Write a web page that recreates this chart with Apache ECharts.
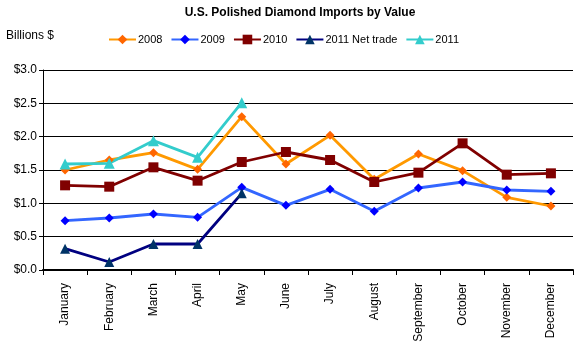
<!DOCTYPE html>
<html>
<head>
<meta charset="utf-8">
<script src="https://cdn.jsdelivr.net/npm/echarts@6/dist/echarts.min.js"></script>
<style>
  html, body { margin: 0; padding: 0; background: #fff; }
  #chart { width: 579px; height: 351px; }
</style>
</head>
<body>
<div id="chart"></div>
<script>
const months = ['January', 'February', 'March', 'April', 'May', 'June', 'July',
  'August', 'September', 'October', 'November', 'December']
const yTicks = [0, 0.5, 1, 1.5, 2, 2.5, 3]
// values in billions of dollars
const v2008 = [1.50, 1.65, 1.76, 1.51, 2.30, 1.59, 2.02, 1.36, 1.74, 1.49, 1.09, 0.96]
const v2009 = [0.74, 0.78, 0.84, 0.79, 1.24, 0.97, 1.21, 0.88, 1.23, 1.32, 1.20, 1.18]
const v2010 = [1.27, 1.25, 1.54, 1.34, 1.62, 1.77, 1.65, 1.32, 1.46, 1.90, 1.43, 1.45]
const v2011Net = [0.32, 0.12, 0.39, 0.39, 1.15]
const v2011 = [1.59, 1.60, 1.94, 1.69, 2.51]

const font = 'Liberation Sans, Arial, sans-serif'

function lineSeries (name, data, lineColor, markColor, symbol, size) {
  return {
    name: name,
    type: 'line',
    data: data,
    symbol: symbol,
    symbolSize: size,
    showSymbol: true,
    lineStyle: { color: lineColor, width: 2.8 },
    itemStyle: { color: markColor },
    animation: false
  }
}

const chart = echarts.init(document.getElementById('chart'))
chart.setOption({
  backgroundColor: '#fff',
  title: [
    {
      text: 'U.S. Polished Diamond Imports by Value',
      left: 295,
      textAlign: 'center',
      top: 2,
      textStyle: { fontFamily: font, fontSize: 12, fontWeight: 'bold', color: '#000' }
    },
    {
      text: 'Billions $',
      left: 1,
      top: 25,
      textStyle: { fontFamily: font, fontSize: 12, fontWeight: 'normal', color: '#000' }
    }
  ],
  legend: {
    left: 103,
    top: 29,
    itemWidth: 27,
    itemHeight: 12,
    itemGap: 8,
    textStyle: { fontFamily: font, fontSize: 11, color: '#000', padding: [0, 0, 0, -3] },
    data: ['2008', '2009', '2010', '2011 Net trade', '2011']
  },
  grid: { left: 43, right: 6, top: 70, bottom: 81, containLabel: false },
  xAxis: {
    type: 'category',
    data: months,
    boundaryGap: true,
    axisLine: { lineStyle: { color: '#000', width: 2 } },
    axisTick: { show: true, length: 5, lineStyle: { color: '#000', width: 1 } },
    axisLabel: { rotate: 90, interval: 0, fontFamily: font, fontSize: 12, color: '#000', margin: 13 }
  },
  yAxis: {
    type: 'value',
    min: yTicks[0],
    max: yTicks[yTicks.length - 1],
    interval: 0.5,
    axisLine: { show: true, lineStyle: { color: '#000', width: 1 } },
    axisTick: { show: true, length: 4, lineStyle: { color: '#000' } },
    splitLine: { lineStyle: { color: '#000', width: 1 } },
    axisLabel: {
      fontFamily: font,
      fontSize: 12,
      color: '#000',
      margin: 6,
      formatter: v => '$' + v.toFixed(1)
    }
  },
  series: [
    lineSeries('2008', v2008, '#FF9900', '#FF6600', 'diamond', 9),
    lineSeries('2009', v2009, '#3366FF', '#0000FF', 'diamond', 9),
    lineSeries('2010', v2010, '#800000', '#800000', 'rect', 10),
    lineSeries('2011 Net trade', v2011Net, '#000080', '#003366', 'triangle', 10),
    lineSeries('2011', v2011, '#33CCCC', '#33CCCC', 'triangle', 11)
  ]
})
</script>
</body>
</html>
